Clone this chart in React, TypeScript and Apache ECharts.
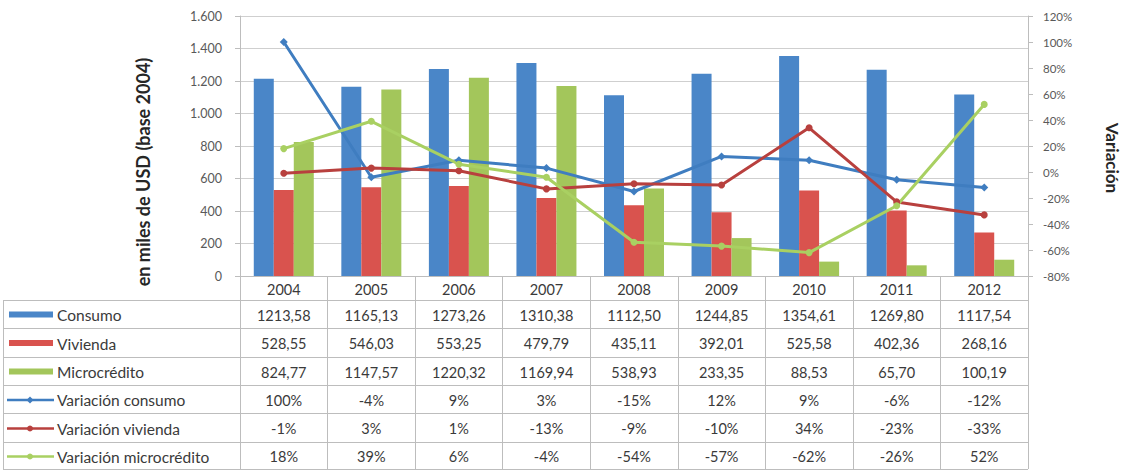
import React, { useEffect, useRef } from "react";
import * as echarts from "echarts";

const years = ["2004", "2005", "2006", "2007", "2008", "2009", "2010", "2011", "2012"];
const consumo = [1213.58, 1165.13, 1273.26, 1310.38, 1112.5, 1244.85, 1354.61, 1269.8, 1117.54];
const vivienda = [528.55, 546.03, 553.25, 479.79, 435.11, 392.01, 525.58, 402.36, 268.16];
const microcredito = [824.77, 1147.57, 1220.32, 1169.94, 538.93, 233.35, 88.53, 65.7, 100.19];
const varConsumo = [100, -4, 9, 3, -15, 12, 9, -6, -12];
const varVivienda = [-1, 3, 1, -13, -9, -10, 34, -23, -33];
const varMicro = [18, 39, 6, -4, -54, -57, -62, -26, 52];

const FONT = "Lato, 'Open Sans', sans-serif";
const BLUE = "#4a86c8";
const RED = "#d9534e";
const GREEN = "#a3c65b";
const BLUE_L = "#3f7dc0";
const RED_L = "#b8403e";
const GREEN_L = "#a9d062";

const W = 1133;
const H = 473;
const GRID_L = 240;
const GRID_R = 1028;
const GRID_T = 16;
const AXIS_Y = 276;
const ROW_LINES = [300, 328, 357, 385, 413, 442, 469];
const TABLE_L = 3;

const fmtNum = (v: number) => v.toFixed(2).replace(".", ",");
const fmtPct = (v: number) => `${v}%`;
const fmtThousands = (v: number) => {
  const s = String(Math.round(v));
  return s.replace(/\B(?=(\d{3})+(?!\d))/g, ".");
};

type RowDef = { name: string; color: string; kind: "bar" | "line"; symbol?: string; cells: string[] };

export default function App() {
  const ref = useRef<HTMLDivElement>(null);

  useEffect(() => {
    if (!ref.current) return;
    const chart = echarts.init(ref.current, null, { renderer: "svg" });

    const rows: RowDef[] = [
      { name: "Consumo", color: BLUE, kind: "bar", cells: consumo.map(fmtNum) },
      { name: "Vivienda", color: RED, kind: "bar", cells: vivienda.map(fmtNum) },
      { name: "Microcrédito", color: GREEN, kind: "bar", cells: microcredito.map(fmtNum) },
      { name: "Variación consumo", color: BLUE_L, kind: "line", symbol: "diamond", cells: varConsumo.map(fmtPct) },
      { name: "Variación vivienda", color: RED_L, kind: "line", symbol: "circle", cells: varVivienda.map(fmtPct) },
      { name: "Variación microcrédito", color: GREEN_L, kind: "line", symbol: "circle", cells: varMicro.map(fmtPct) },
    ];

    const colW = (GRID_R - GRID_L) / years.length;
    const gfx: any[] = [];
    const lineColor = "#bdbdbd";
    const txt = "#3a3a3a";
    ROW_LINES.forEach((y) => {
      gfx.push({ type: "line", shape: { x1: TABLE_L, y1: y + 0.5, x2: GRID_R, y2: y + 0.5 }, style: { stroke: lineColor, lineWidth: 1 }, silent: true });
    });
    gfx.push({ type: "line", shape: { x1: TABLE_L + 0.5, y1: ROW_LINES[0], x2: TABLE_L + 0.5, y2: ROW_LINES[ROW_LINES.length - 1] }, style: { stroke: lineColor, lineWidth: 1 }, silent: true });
    years.forEach((yr, i) => {
      gfx.push({ type: "text", x: GRID_L + colW * (i + 0.5), y: (AXIS_Y + ROW_LINES[0]) / 2 + 1, style: { text: yr, fill: txt, font: `14.5px ${FONT}`, align: "center", verticalAlign: "middle" }, silent: true });
    });
    rows.forEach((r, ri) => {
      const yc = (ROW_LINES[ri] + ROW_LINES[ri + 1]) / 2 + 1;
      if (r.kind === "bar") {
        gfx.push({ type: "rect", shape: { x: 9, y: yc - 3.5, width: 44, height: 6 }, style: { fill: r.color }, silent: true });
      } else {
        gfx.push({ type: "line", shape: { x1: 7, y1: yc, x2: 54, y2: yc }, style: { stroke: r.color, lineWidth: 2.5 }, silent: true });
        if (r.symbol === "diamond") {
          gfx.push({ type: "polygon", shape: { points: [[30, yc - 3.5], [33.5, yc], [30, yc + 3.5], [26.5, yc]] }, style: { fill: r.color }, silent: true });
        } else {
          gfx.push({ type: "circle", shape: { cx: 30, cy: yc, r: 3 }, style: { fill: r.color }, silent: true });
        }
      }
      gfx.push({ type: "text", x: 57, y: yc, style: { text: r.name, fill: txt, font: `15.5px ${FONT}`, align: "left", verticalAlign: "middle" }, silent: true });
      r.cells.forEach((c, ci) => {
        gfx.push({ type: "text", x: GRID_L + colW * (ci + 0.5), y: yc, style: { text: c, fill: txt, font: `14.5px ${FONT}`, align: "center", verticalAlign: "middle" }, silent: true });
      });
    });
    gfx.push({ type: "text", x: 143, y: 172, rotation: Math.PI / 2, style: { text: "en miles de USD (base 2004)", fill: "#262626", font: `bold 18px ${FONT}`, align: "center", verticalAlign: "middle" }, silent: true });
    gfx.push({ type: "text", x: 1112, y: 158, rotation: -Math.PI / 2, style: { text: "Variación", fill: "#262626", font: `bold 17px ${FONT}`, align: "center", verticalAlign: "middle" }, silent: true });

    chart.setOption({
      animation: false,
      backgroundColor: "#ffffff",
      textStyle: { fontFamily: FONT },
      grid: { left: GRID_L, right: W - GRID_R, top: GRID_T, bottom: H - AXIS_Y, containLabel: false },
      xAxis: {
        type: "category",
        data: years,
        axisLine: { lineStyle: { color: lineColor, width: 1 } },
        axisTick: { show: true, length: ROW_LINES[ROW_LINES.length - 1] - AXIS_Y, lineStyle: { color: lineColor } },
        axisLabel: { show: false },
        splitLine: { show: false },
      },
      yAxis: [
        {
          type: "value",
          min: 0,
          max: 1600,
          interval: 200,
          axisLine: { show: true, lineStyle: { color: lineColor } },
          axisTick: { show: true, length: 5, lineStyle: { color: lineColor } },
          axisLabel: { color: "#595959", fontSize: 12.5, margin: 18, formatter: (v: number) => fmtThousands(v) },
          splitLine: { show: true, lineStyle: { color: "#cfcfcf", width: 1 } },
        },
        {
          type: "value",
          min: -80,
          max: 120,
          interval: 20,
          position: "right",
          axisLine: { show: true, lineStyle: { color: lineColor } },
          axisTick: { show: true, length: 5, lineStyle: { color: lineColor } },
          axisLabel: { color: "#595959", fontSize: 11.5, margin: 15, formatter: (v: number) => `${v}%` },
          splitLine: { show: false },
        },
      ],
      series: [
        { name: "Consumo", type: "bar", data: consumo, barWidth: 20, barGap: "0%", itemStyle: { color: BLUE } },
        { name: "Vivienda", type: "bar", data: vivienda, barWidth: 20, barGap: "0%", itemStyle: { color: RED } },
        { name: "Microcrédito", type: "bar", data: microcredito, barWidth: 20, barGap: "0%", itemStyle: { color: GREEN } },
        { name: "Variación consumo", type: "line", yAxisIndex: 1, data: varConsumo, symbol: "diamond", symbolSize: 8, lineStyle: { color: BLUE_L, width: 3 }, itemStyle: { color: BLUE_L } },
        { name: "Variación vivienda", type: "line", yAxisIndex: 1, data: varVivienda, symbol: "circle", symbolSize: 7, lineStyle: { color: RED_L, width: 3 }, itemStyle: { color: RED_L } },
        { name: "Variación microcrédito", type: "line", yAxisIndex: 1, data: varMicro, symbol: "circle", symbolSize: 7, lineStyle: { color: GREEN_L, width: 3 }, itemStyle: { color: GREEN_L } },
      ],
      graphic: gfx,
    });

    return () => chart.dispose();
  }, []);

  return <div ref={ref} style={{ position: "fixed", left: 0, top: 0, width: W, height: H, background: "#fff" }} />;
}
